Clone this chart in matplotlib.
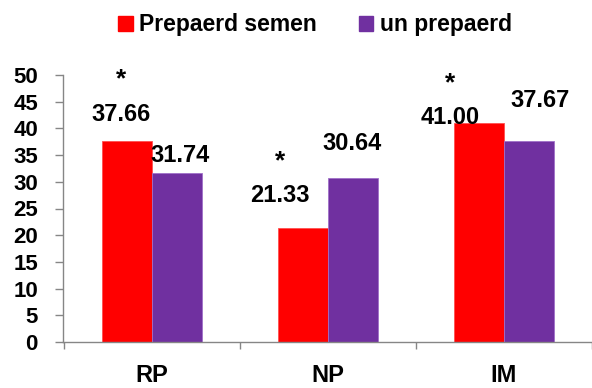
import matplotlib
matplotlib.use("Agg")
import matplotlib.pyplot as plt
from matplotlib.patches import Patch
import numpy as np

plt.rcParams['font.family'] = ['Liberation Sans', 'DejaVu Sans']
plt.rcParams['font.weight'] = 'bold'

categories = ['RP', 'NP', 'IM']
prepared = [37.66, 21.33, 41.00]
unprepared = [31.74, 30.64, 37.67]
series_names = ['Prepaerd semen', 'un prepaerd']
significant = [True, True, True]   # asterisk over the prepared bar

# label offsets from bar top (pixels: dx, dy up to text centre)
prep_off = [(-5.5, 28), (-23, 35), (-28.5, 8)]
unprep_off = [(3.5, 19), (-0.5, 37), (11, 42)]
star_off = [(-6, 68), (-23, 73), (-28.5, 46)]

RED = '#FF0000'
PURPLE = '#7030A0'
GREY = '#868686'
px = 0.72  # points per pixel at dpi 100

fig = plt.figure(figsize=(5.92, 3.88), dpi=100)
ax = fig.add_axes([63 / 592, 1 - 342 / 388, 1 - 63 / 592, (342 - 75) / 388])

x = np.arange(len(categories))
w = 0.285
b1 = ax.bar(x - w / 2, prepared, w, color=RED, edgecolor='#FF5050', linewidth=0.6)
b2 = ax.bar(x + w / 2, unprepared, w, color=PURPLE, edgecolor='#A070C8', linewidth=0.6)

def put_label(bar, val, off):
    cx = bar.get_x() + bar.get_width() / 2
    # baseline offset: digits are ~17px tall
    ax.annotate('%.2f' % val, (cx, bar.get_height()),
                xytext=(off[0] * px, (off[1] - 8.5) * px), textcoords='offset points',
                ha='center', va='baseline', fontsize=17, fontweight='bold',
                annotation_clip=False)

for i in range(len(categories)):
    put_label(b1[i], prepared[i], prep_off[i])
    put_label(b2[i], unprepared[i], unprep_off[i])
    if significant[i]:
        cx = b1[i].get_x() + b1[i].get_width() / 2
        ax.annotate('*', (cx, b1[i].get_height()),
                    xytext=(star_off[i][0] * px, (star_off[i][1] - 13) * px),
                    textcoords='offset points', ha='center', va='baseline',
                    fontsize=19, fontweight='bold', annotation_clip=False)

ax.set_xlim(-0.505, 2.433)
ax.set_ylim(0, 50)
ax.set_yticks(np.arange(0, 51, 5))
ax.tick_params(axis='y', length=8 * px, width=1, color=GREY, pad=17 * px,
               labelsize=16)
for t in ax.get_yticklabels():
    t.set_fontweight('bold')

ax.set_xticks(x)
ax.set_xticklabels(categories, fontsize=17, fontweight='bold')
ax.tick_params(axis='x', which='major', length=0, pad=22 * px)
ax.set_xticks(np.arange(-0.5, len(categories), 1.0), minor=True)
ax.tick_params(axis='x', which='minor', length=7 * px, width=1, color=GREY)

for s in ['top', 'right']:
    ax.spines[s].set_visible(False)
for s in ['left', 'bottom']:
    ax.spines[s].set_color(GREY)
    ax.spines[s].set_linewidth(1)

handles = [Patch(facecolor=RED, edgecolor=RED), Patch(facecolor=PURPLE, edgecolor=PURPLE)]
fig.legend(handles, series_names, loc='center', bbox_to_anchor=(315 / 592, 1 - 25 / 388),
           ncol=2, frameon=False, handlelength=0.65, handleheight=0.65,
           handletextpad=0.3, columnspacing=1.8,
           prop={'weight': 'bold', 'size': 16.5})

fig.savefig('out.png', dpi=100)
